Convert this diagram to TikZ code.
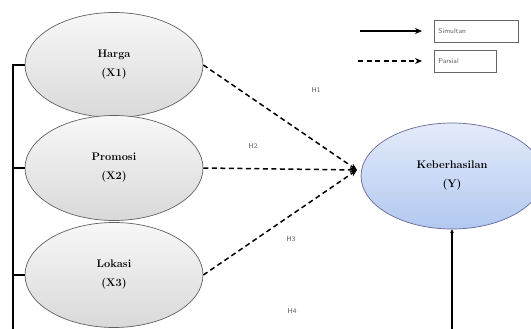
\documentclass[tikz,border=0pt]{standalone}
\usepackage{amsmath,amssymb}
\usepackage{tikz}
\usetikzlibrary{shapes.geometric,arrows.meta}

\definecolor{ytop}{RGB}{228,235,250}
\definecolor{ybot}{RGB}{178,200,240}

\tikzset{
  var/.style={ellipse,draw=gray!75!black,line width=0.7pt,top color=gray!6,bottom color=gray!30,
    minimum width=178pt,minimum height=105pt,inner sep=0pt,align=center,
    font=\bfseries\fontsize{11}{13}\selectfont},
  dep/.style={var,draw=blue!20!gray,top color=ytop,bottom color=ybot,minimum width=182pt,minimum height=106pt},
  hyp/.style={font=\sffamily\scriptsize,text=gray!70!black},
  partial/.style={line width=1.5pt,dash pattern=on 5pt off 3.5pt,-{Stealth[length=7pt,width=6pt]}},
  simul/.style={line width=1.2pt},
  legbox/.style={draw=gray!80!black,line width=0.8pt,font=\sffamily\scriptsize,text=gray!75!black,
    minimum height=22pt,inner sep=4pt,anchor=west,align=left}
}

\begin{document}
\begin{tikzpicture}[x=1pt,y=-1pt]
\useasboundingbox (0,0) rectangle (531,329);

\node[var] (H) at (114,65) {Harga\\[6pt](X1)};
\node[var] (P) at (114,168) {Promosi\\[6pt](X2)};
\node[var] (L) at (114,275) {Lokasi\\[6pt](X3)};
\node[dep] (Y) at (452,176) {Keberhasilan\\[6pt](Y)};

\coordinate (tip) at (357,170);
\coordinate (bl) at (13,329);
\coordinate (br) at (452,329);

% partial paths
\draw[partial] (H.east) -- (tip);
\draw[partial] (P.east) -- (tip);
\draw[partial] (L.east) -- (tip);

% simultaneous path
\draw[simul] (H.west) -| (bl);
\draw[simul] (P.west) -- (P.west -| bl);
\draw[simul] (L.west) -- (L.west -| bl);
\draw[simul,-{Stealth[length=4pt,width=4pt]}] (br) -- (Y.south);

\node[hyp] (h1) at (316,90) {H1};
\node[hyp] (h2) at (253,146) {H2};
\node[hyp] (h3) at (291,239) {H3};
\node[hyp] (h4) at (292,311) {H4};

% legend
\node[legbox,text width=76pt] (sim) at (434,31) {Simultan};
\node[legbox,text width=54pt] (par) at (434,61) {Parsial};
\coordinate (s0) at (360,31);
\coordinate (p0) at (358,61);
\draw[simul,-{Stealth[length=7pt,width=6pt]}] (s0) -- ([xshift=-12pt]sim.west);
\draw[partial] (p0) -- ([xshift=-12pt]par.west);
\end{tikzpicture}
\end{document}
